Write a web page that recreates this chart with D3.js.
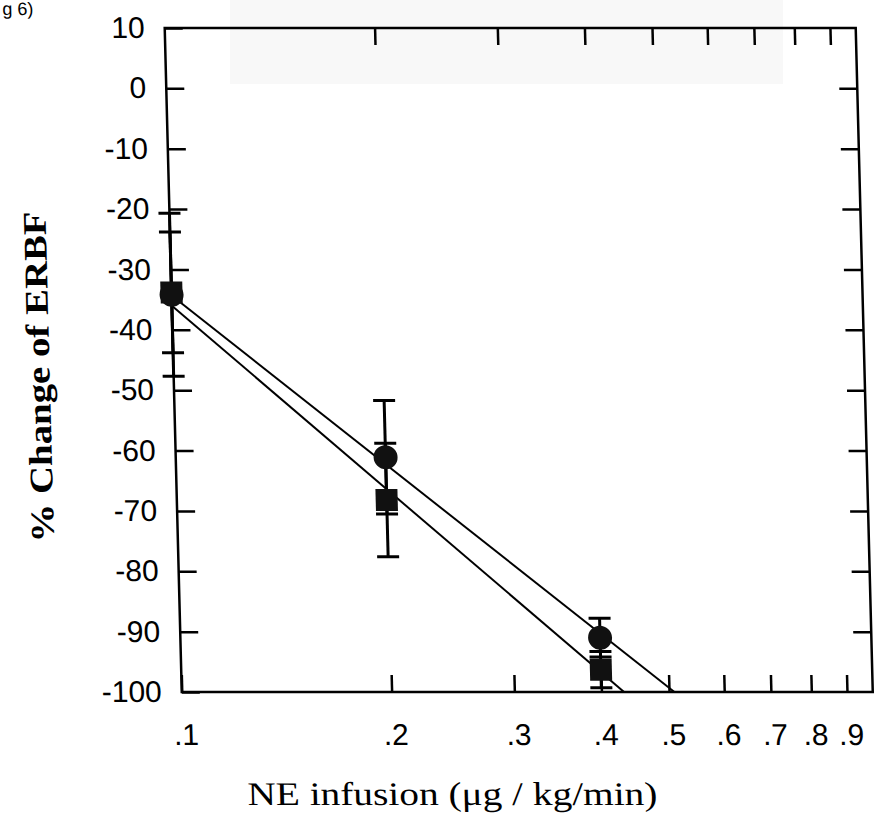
<!DOCTYPE html>
<html>
<head>
<meta charset="utf-8">
<script src="https://cdn.jsdelivr.net/npm/d3@7"></script>
<style>
  html, body { margin: 0; padding: 0; background: #fff; }
  svg { display: block; }
</style>
</head>
<body>
<svg id="chart" width="875" height="815"></svg>
<script>
// ---- data ----
const doses = [0.1, 0.2, 0.4];
const circleMean = [-34.2, -61.1, -91.0];
const circleSE = [13.5, 9.4, 3.2];
const squareMean = [-33.8, -68.2, -96.3];
const squareSE = [10.0, 9.4, 3.0];
// regression line end points (dose, % change)
const circleFit = [[0.1, -34.3], [0.509, -100]];
const squareFit = [[0.1, -36.0], [0.431, -100]];
// axis ticks
const xTickValues = [0.1, 0.2, 0.3, 0.4, 0.5, 0.6, 0.7, 0.8, 0.9];
const xTickLabels = [".1", ".2", ".3", ".4", ".5", ".6", ".7", ".8", ".9"];
const yTickValues = [10, 0, -10, -20, -30, -40, -50, -60, -70, -80, -90, -100];
const yTitle = "% Change  of ERBF";
const xTitle = "NE infusion (\u03BCg / kg/min)";

// ---- layout ----
const L = 164, R = 855, T = 28, B = 692;
const svg = d3.select("#chart");

// faint scan background patch
svg.append("rect").attr("x", 230).attr("y", 0).attr("width", 553).attr("height", 84)
  .attr("fill", "#f8f8f8");

const g = svg.append("g").attr("transform", "skewX(1.47)");

// caption fragment at top-left
g.append("text").attr("x", 2).attr("y", 15)
  .attr("font-family", "Liberation Sans, Arial, sans-serif").attr("font-size", 18)
  .text("g 6)");

const x = d3.scaleLog().domain([0.1, 0.98]).range([L, R]);
const y = d3.scaleLinear().domain([10, -100]).range([T, B]);

const font = "Liberation Sans, Arial, Helvetica, sans-serif";

function styleAxis(sel) {
  sel.select(".domain").remove();
  sel.selectAll(".tick line").attr("stroke", "#000").attr("stroke-width", 2.5);
  sel.selectAll(".tick text").attr("fill", "#000")
    .attr("font-family", font).attr("font-size", 30);
}

// left axis with labels
g.append("g").attr("transform", `translate(${L},0)`)
  .call(d3.axisLeft(y).tickValues(yTickValues).tickSize(-18).tickPadding(20)
    .tickFormat(d => String(d)))
  .call(styleAxis);

// right axis
g.append("g").attr("transform", `translate(${R},0)`)
  .call(d3.axisRight(y).tickValues(yTickValues.slice(1, -1)).tickSize(-18).tickFormat(""))
  .call(styleAxis);

// bottom axis with labels
g.append("g").attr("transform", `translate(0,${B})`)
  .call(d3.axisBottom(x).tickValues(xTickValues).tickSize(-17).tickPadding(32)
    .tickFormat((d, i) => xTickLabels[i]))
  .call(styleAxis)
  .selectAll(".tick text").attr("dx", 3);

// top axis
g.append("g").attr("transform", `translate(0,${T})`)
  .call(d3.axisTop(x).tickValues(xTickValues.slice(1)).tickSize(-17).tickFormat(""))
  .call(styleAxis);

// frame
g.append("rect").attr("x", L).attr("y", T).attr("width", R - L).attr("height", B - T)
  .attr("fill", "none").attr("stroke", "#000").attr("stroke-width", 2.5);

// regression lines
const line = d3.line().x(d => x(d[0])).y(d => y(d[1]));
[circleFit, squareFit].forEach(fit => {
  g.append("path").attr("d", line(fit)).attr("fill", "none")
    .attr("stroke", "#000").attr("stroke-width", 2);
});

// error bars
function errorBars(means, ses) {
  const eb = g.append("g").attr("stroke", "#000").attr("stroke-width", 3);
  doses.forEach((d, i) => {
    const cx = x(d), y1 = y(means[i] + ses[i]), y2 = y(means[i] - ses[i]);
    eb.append("line").attr("x1", cx).attr("x2", cx).attr("y1", y1).attr("y2", y2);
    eb.append("line").attr("x1", cx - 11).attr("x2", cx + 11).attr("y1", y1).attr("y2", y1);
    eb.append("line").attr("x1", cx - 11).attr("x2", cx + 11).attr("y1", y2).attr("y2", y2);
  });
}
errorBars(circleMean, circleSE);
errorBars(squareMean, squareSE);

// markers
g.selectAll("rect.sq").data(doses).join("rect").attr("class", "sq")
  .attr("x", d => x(d) - 11).attr("y", (d, i) => y(squareMean[i]) - 11)
  .attr("width", 22).attr("height", 22).attr("fill", "#111");
g.selectAll("circle.ci").data(doses).join("circle").attr("class", "ci")
  .attr("cx", d => x(d)).attr("cy", (d, i) => y(circleMean[i]))
  .attr("r", 12).attr("fill", "#111");

// axis titles
g.append("text")
  .attr("transform", "translate(40,377) rotate(-90)")
  .attr("text-anchor", "middle")
  .attr("font-family", "Liberation Serif, Times New Roman, serif")
  .attr("font-weight", "bold").attr("font-size", 33)
  .attr("textLength", 331).attr("lengthAdjust", "spacingAndGlyphs")
  .text(yTitle);

g.append("text")
  .attr("x", 432).attr("y", 805)
  .attr("text-anchor", "middle")
  .attr("font-family", "Liberation Serif, Times New Roman, serif")
  .attr("font-size", 33)
  .attr("textLength", 410).attr("lengthAdjust", "spacingAndGlyphs")
  .text(xTitle);
</script>
</body>
</html>
